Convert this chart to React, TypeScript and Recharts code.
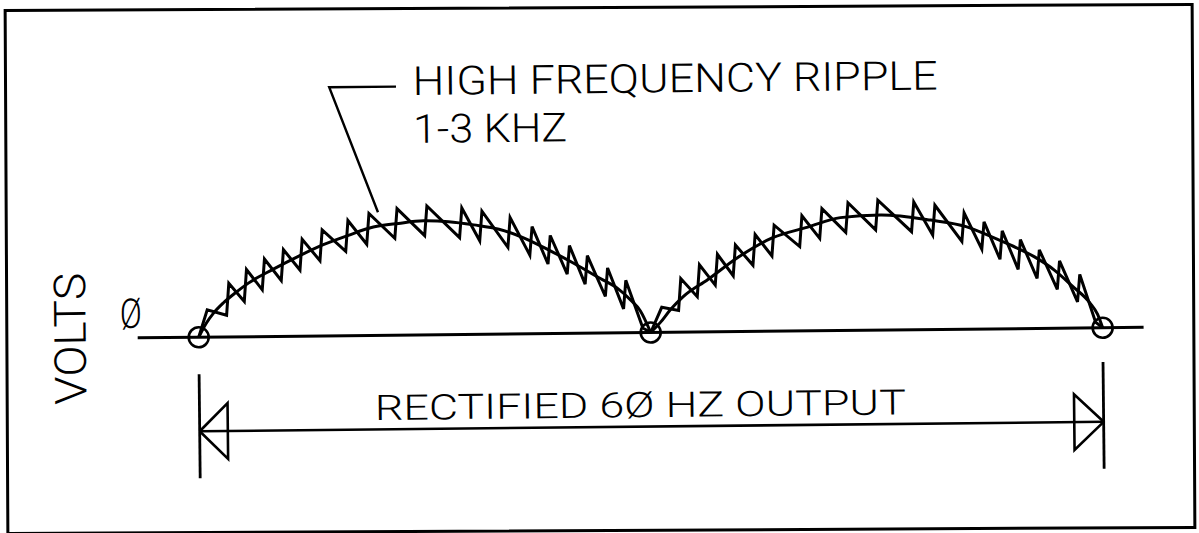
import React from "react";
import { ComposedChart, Line, XAxis, YAxis, ReferenceDot } from "recharts";

// x: phase of the 60 Hz supply in degrees (0-360 = two rectified half cycles)
// y: volts (relative units, 100 = arch peak)

const archOne = [
  { x: 0, y: 0 }, { x: 3, y: 12 }, { x: 6, y: 21 }, { x: 10, y: 30 }, { x: 15, y: 39 },
  { x: 20, y: 47 }, { x: 30, y: 59 }, { x: 40, y: 70 }, { x: 50, y: 80 }, { x: 60, y: 88 },
  { x: 70, y: 95 }, { x: 80, y: 98 }, { x: 90, y: 100 }, { x: 100, y: 99 }, { x: 110, y: 96 },
  { x: 120, y: 92 }, { x: 130, y: 84 }, { x: 140, y: 73 }, { x: 150, y: 61 }, { x: 160, y: 48 },
  { x: 167, y: 39 }, { x: 172, y: 29 }, { x: 176, y: 19 }, { x: 180, y: 0 },
];

const archTwo = [
  { x: 180, y: 0 }, { x: 184, y: 9 }, { x: 188, y: 20 }, { x: 193, y: 31 }, { x: 203, y: 46 },
  { x: 215, y: 65 }, { x: 229, y: 82 }, { x: 243, y: 91 }, { x: 256, y: 99 }, { x: 272, y: 101 },
  { x: 292, y: 96 }, { x: 306, y: 90 }, { x: 316, y: 81 }, { x: 324, y: 73 }, { x: 333, y: 63 },
  { x: 341, y: 51 }, { x: 348, y: 37 }, { x: 355, y: 22 }, { x: 358, y: 12 }, { x: 360, y: 0 },
];

const rippleOne = [
  { x: 0, y: 0 }, { x: 3.5, y: 24 }, { x: 11.2, y: 19 }, { x: 12.2, y: 47 }, { x: 18.3, y: 31 },
  { x: 19.3, y: 59 }, { x: 25.5, y: 41 }, { x: 26.5, y: 68 }, { x: 33.1, y: 49 }, { x: 34.1, y: 76 },
  { x: 40.6, y: 58 }, { x: 41.6, y: 85 }, { x: 48.6, y: 66 }, { x: 49.6, y: 93 }, { x: 58.9, y: 74 },
  { x: 59.9, y: 101 }, { x: 67.3, y: 80 }, { x: 68.3, y: 107 }, { x: 78.5, y: 85 }, { x: 79.5, y: 111 },
  { x: 90.4, y: 87 }, { x: 91.4, y: 113 }, { x: 104.3, y: 85 }, { x: 105.3, y: 111 }, { x: 112.3, y: 82 },
  { x: 113.3, y: 108 }, { x: 123.5, y: 76 }, { x: 124.5, y: 102 }, { x: 132.2, y: 69 }, { x: 133.2, y: 94 },
  { x: 139.4, y: 61 }, { x: 140.4, y: 86 }, { x: 147, y: 52 }, { x: 148, y: 77 }, { x: 154.1, y: 43 },
  { x: 155.1, y: 68 }, { x: 162.1, y: 32 }, { x: 163.1, y: 57 }, { x: 169.3, y: 21 }, { x: 170.3, y: 46 },
  { x: 176.9, y: 4 }, { x: 180, y: 0 },
];

const rippleTwo = [
  { x: 180, y: 0 }, { x: 184.5, y: 22 }, { x: 191.2, y: 19 }, { x: 192.2, y: 47 }, { x: 198.7, y: 31 },
  { x: 199.7, y: 59 }, { x: 205.9, y: 41 }, { x: 206.9, y: 68 }, { x: 213.1, y: 49 }, { x: 214.1, y: 76 },
  { x: 221, y: 58 }, { x: 222, y: 85 }, { x: 228.6, y: 66 }, { x: 229.6, y: 93 }, { x: 239.7, y: 74 },
  { x: 240.7, y: 101 }, { x: 247.7, y: 81 }, { x: 248.7, y: 107 }, { x: 258.1, y: 86 }, { x: 259.1, y: 112 },
  { x: 270, y: 88 }, { x: 271, y: 114 }, { x: 284.3, y: 86 }, { x: 285.3, y: 112 }, { x: 292.7, y: 83 },
  { x: 293.7, y: 109 }, { x: 304.3, y: 77 }, { x: 305.3, y: 102 }, { x: 312.2, y: 70 }, { x: 313.2, y: 94 },
  { x: 319.4, y: 61 }, { x: 320.4, y: 86 }, { x: 326.6, y: 52 }, { x: 327.6, y: 78 }, { x: 334.1, y: 44 },
  { x: 335.1, y: 69 }, { x: 342.1, y: 34 }, { x: 343.1, y: 59 }, { x: 350.1, y: 23 }, { x: 351.1, y: 47 },
  { x: 357.2, y: 5 }, { x: 360, y: 0 },
];

const zeroLine = [{ x: -24.3, y: 0 }, { x: 376.3, y: 0 }];
const zeroCrossings = [0, 180, 360];

const dimensionLine = [{ x: 0, y: -82.5 }, { x: 360, y: -82.5 }];
const leftExtension = [{ x: 0, y: -32.5 }, { x: 0, y: -123.7 }];
const rightExtension = [{ x: 360, y: -30 }, { x: 360, y: -123.7 }];
const leftArrowHead = [{ x: 0, y: -82.5 }, { x: 11.2, y: -58 }, { x: 11.2, y: -107 }, { x: 0, y: -82.5 }];
const rightArrowHead = [{ x: 360, y: -82.5 }, { x: 348.3, y: -58 }, { x: 348.3, y: -107 }, { x: 360, y: -82.5 }];

const leader = [{ x: 79.6, y: 218 }, { x: 53, y: 218 }, { x: 71.9, y: 108 }];

const rippleLabel = ["HIGH FREQUENCY RIPPLE", "1-3 KHZ"];
const yLabel = "VOLTS";
const zeroLabel = "Ø";
const spanLabel = "RECTIFIED 6Ø HZ OUTPUT";

const W = 1199;
const H = 533;
const FONT = "Roboto, 'Open Sans', 'DejaVu Sans', sans-serif";

const seg = (key: string, data: { x: number; y: number }[], width = 2.6, type: any = "linear") => (
  <Line
    key={key}
    data={data}
    dataKey="y"
    type={type}
    stroke="#000"
    strokeWidth={width}
    dot={false}
    activeDot={false}
    isAnimationActive={false}
    strokeLinejoin="miter"
    strokeLinecap="butt"
  />
);

export default function App() {
  return (
    <div style={{ position: "absolute", left: 0, top: 0, width: W, height: H, background: "#fff", overflow: "hidden" }}>
      <div
        style={{
          position: "absolute",
          left: 5,
          top: 5.5,
          width: 1190,
          height: 526,
          border: "3px solid #000",
          boxSizing: "border-box",
          transform: "rotate(-0.3deg)",
        }}
      />
      <div style={{ position: "absolute", left: 0, top: 0, width: W, height: H, transform: "rotate(-0.6deg)" }}>
        <ComposedChart width={W} height={H} margin={{ top: 0, right: 0, bottom: 0, left: 0 }}>
          <XAxis type="number" dataKey="x" domain={[-78.85, 398.63]} hide allowDataOverflow />
          <YAxis type="number" dataKey="y" domain={[-175.4, 292.1]} hide allowDataOverflow />
          {seg("zero", zeroLine, 3)}
          {seg("arch1", archOne, 3, "monotone")}
          {seg("arch2", archTwo, 3, "monotone")}
          {seg("rip1", rippleOne, 3)}
          {seg("rip2", rippleTwo, 3)}
          {seg("dim", dimensionLine, 2.6)}
          {seg("extL", leftExtension, 2.8)}
          {seg("extR", rightExtension, 2.8)}
          {seg("ahL", leftArrowHead, 2.6)}
          {seg("ahR", rightArrowHead, 2.6)}
          {seg("leader", leader, 2.4)}
          {zeroCrossings.map((x) => (
            <ReferenceDot key={x} x={x} y={0} r={10} fill="none" stroke="#000" strokeWidth={2.6} ifOverflow="visible" />
          ))}
        </ComposedChart>
        <svg width={W} height={H} style={{ position: "absolute", left: 0, top: 0, pointerEvents: "none" }}>
          <g fontFamily={FONT} fontWeight={300} fill="#000">
            <text x={414.5} y={93} fontSize={40} textLength={525} lengthAdjust="spacingAndGlyphs">
              {rippleLabel[0]}
            </text>
            <text x={414.5} y={141} fontSize={40} textLength={154} lengthAdjust="spacingAndGlyphs">
              {rippleLabel[1]}
            </text>
            <text
              x={85}
              y={333.4}
              fontSize={44}
              textAnchor="middle"
              transform="rotate(-90 85 333.4)"
              textLength={132}
              lengthAdjust="spacingAndGlyphs"
            >
              {yLabel}
            </text>
            <text x={119.5} y={323} fontSize={41} textLength={22} lengthAdjust="spacingAndGlyphs">
              {zeroLabel}
            </text>
            <text x={373.4} y={417.6} fontSize={35} textLength={531} lengthAdjust="spacingAndGlyphs">
              {spanLabel}
            </text>
          </g>
        </svg>
      </div>
    </div>
  );
}
